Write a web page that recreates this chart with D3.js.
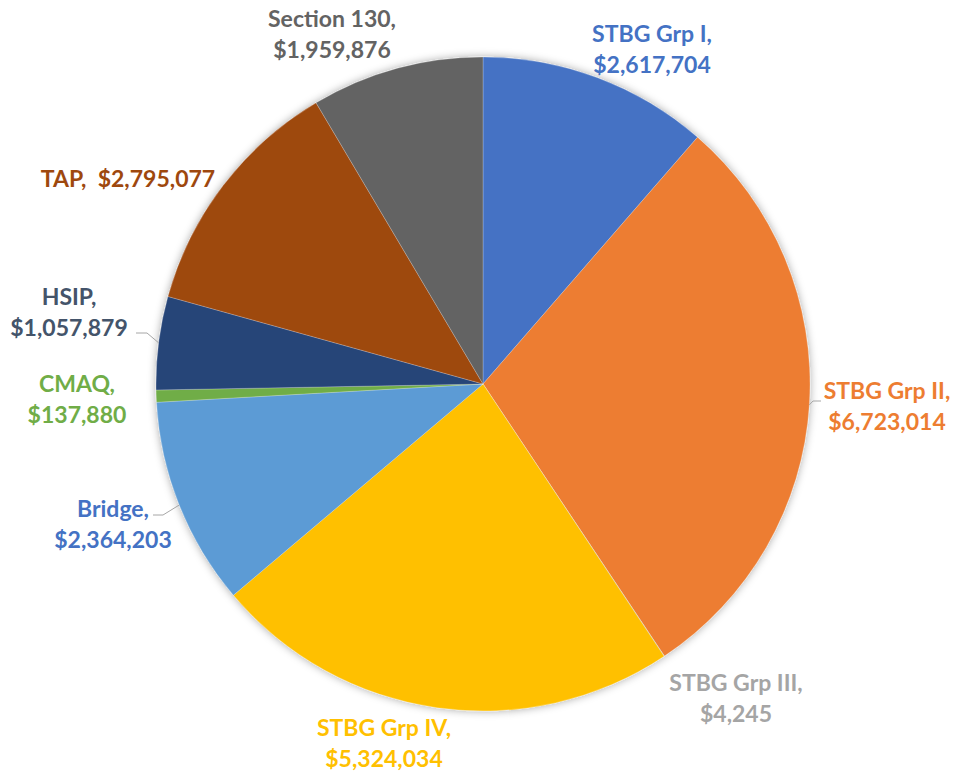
<!DOCTYPE html>
<html>
<head>
<meta charset="utf-8">
<script src="https://cdn.jsdelivr.net/npm/d3@7"></script>
<style>
	body { margin: 0; background: #fff; }
	.pie-label { font-family: Lato, 'Open Sans', sans-serif; font-weight: 700; font-size: 23px; }
</style>
</head>
<body>
<div class="chart"></div>
<script>
// data
const programs = ['STBG Grp I', 'STBG Grp II', 'STBG Grp III', 'STBG Grp IV', 'Bridge', 'CMAQ', 'HSIP', 'TAP', 'Section 130'];
const amounts = [2617704, 6723014, 4245, 5324034, 2364203, 137880, 1057879, 2795077, 1959876];

// styles
const sliceColors = ['#4472C4', '#ED7D31', '#A5A5A5', '#FFC000', '#5B9BD5', '#70AD47', '#264478', '#9E480E', '#636363'];
const labelColors = ['#4472C4', '#ED7D31', '#A5A5A5', '#FFC000', '#4472C4', '#70AD47', '#44546A', '#9E480E', '#636363'];

// label placement (center x, first baseline, one or two lines, leader elbow)
const labelLayout = {
	'STBG Grp I': { x: 652, y: 42 },
	'STBG Grp II': { x: 887, y: 399, leader: [821, 401, 813] },
	'STBG Grp III': { x: 736, y: 691 },
	'STBG Grp IV': { x: 384, y: 736 },
	'Bridge': { x: 113, y: 517, leader: [153, 515, 163] },
	'CMAQ': { x: 77, y: 392 },
	'HSIP': { x: 69, y: 305, leader: [136, 333, 147] },
	'TAP': { x: 128, y: 187, oneLine: true },
	'Section 130': { x: 332, y: 27 }
};

const width = 953;
const height = 772;
const cx = 483;
const cy = 384;
const radius = 327;
const lineGap = 31;

const fmt = d3.format('$,');

const $svg = d3.select('.chart').append('svg')
	.attr('width', width)
	.attr('height', height);

// soft glow round the pie
const $filter = $svg.append('defs').append('filter')
	.attr('id', 'glow')
	.attr('x', '-10%').attr('y', '-10%')
	.attr('width', '120%').attr('height', '120%');
$filter.append('feDropShadow')
	.attr('dx', 0).attr('dy', 0)
	.attr('stdDeviation', 4)
	.attr('flood-color', '#000')
	.attr('flood-opacity', 0.35);

const data = programs.map((name, i) => ({ name, value: amounts[i], i }));

const pie = d3.pie().sort(null).value(d => d.value);
const arc = d3.arc().innerRadius(0).outerRadius(radius);
const arcs = pie(data);

const $g = $svg.append('g').attr('transform', `translate(${cx}, ${cy})`);

$g.append('g')
	.attr('filter', 'url(#glow)')
	.selectAll('path')
	.data(arcs)
	.join('path')
	.attr('d', arc)
	.attr('fill', d => sliceColors[d.data.i])
	.attr('stroke', 'rgba(255,255,255,0.3)')
	.attr('stroke-width', 0.75);

// leader lines
const edgePoint = d => {
	const a = (d.startAngle + d.endAngle) / 2;
	return [cx + radius * Math.sin(a), cy - radius * Math.cos(a)];
};

$svg.append('g')
	.selectAll('polyline')
	.data(arcs.filter(d => labelLayout[d.data.name].leader))
	.join('polyline')
	.attr('points', d => {
		const [x0, y0, x1] = labelLayout[d.data.name].leader;
		const [ex, ey] = edgePoint(d);
		return `${x0},${y0} ${x1},${y0} ${ex},${ey}`;
	})
	.attr('fill', 'none')
	.attr('stroke', '#A6A6A6')
	.attr('stroke-width', 1);

// labels
const $labels = $svg.append('g')
	.selectAll('text')
	.data(arcs)
	.join('text')
	.attr('class', 'pie-label')
	.attr('text-anchor', 'middle')
	.attr('fill', d => labelColors[d.data.i])
	.attr('x', d => labelLayout[d.data.name].x)
	.attr('y', d => labelLayout[d.data.name].y)
	.attr('xml:space', 'preserve');

$labels.each(function(d) {
	const lay = labelLayout[d.data.name];
	const $t = d3.select(this);
	if (lay.oneLine) {
		$t.text(`${d.data.name},  ${fmt(d.data.value)}`);
		return;
	}
	$t.append('tspan').attr('x', lay.x).text(`${d.data.name},`);
	$t.append('tspan').attr('x', lay.x).attr('dy', lineGap).text(fmt(d.data.value));
});
</script>
</body>
</html>
